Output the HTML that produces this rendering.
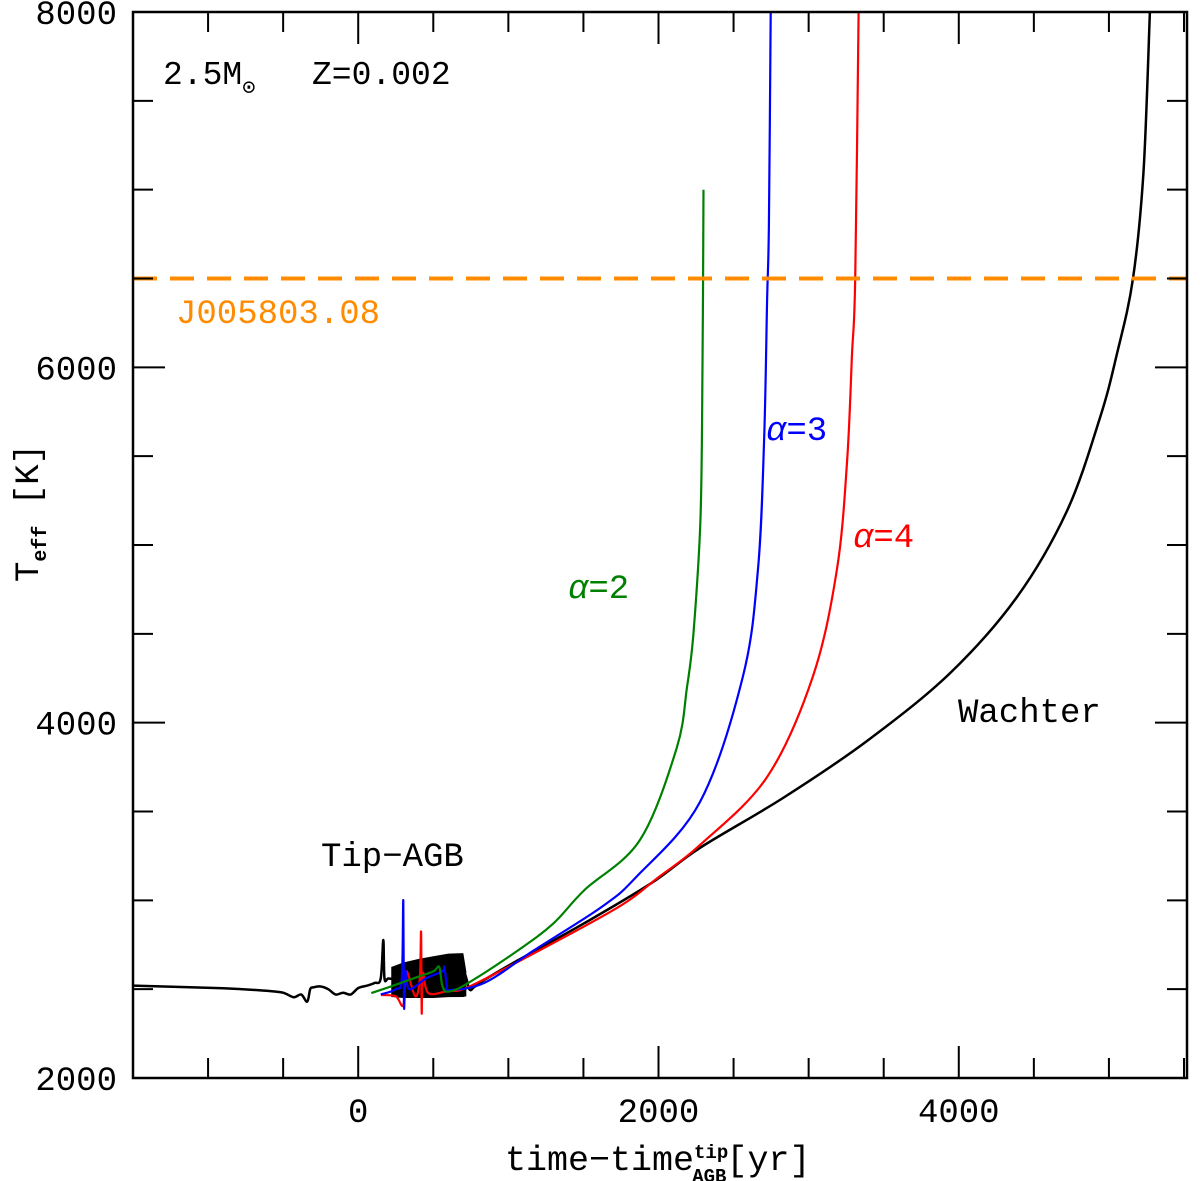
<!DOCTYPE html>
<html><head><meta charset="utf-8"><style>
html,body{margin:0;padding:0;background:#fff;}
svg{display:block;font-family:"Liberation Mono","DejaVu Sans Mono",monospace;}
</style></head><body>
<svg id="chart" width="1200" height="1181" viewBox="0 0 1200 1181">
<g id="marks"></g>
<g id="axes"></g>
<rect x="133" y="12" width="1054" height="1066" fill="none" stroke="#000" stroke-width="2.5"/>
<text x="163" y="84" font-size="33">2.5M<tspan font-size="22" dy="10">⊙</tspan></text>
<text x="312" y="84" font-size="33">Z=0.002</text>
<text x="176" y="323" font-size="34" fill="#ff8c00">J005803.08</text>
<text x="568" y="598" font-size="34" fill="green"><tspan font-style="italic">α</tspan>=2</text>
<text x="766" y="440" font-size="34" fill="blue"><tspan font-style="italic">α</tspan>=3</text>
<text x="853" y="547" font-size="34" fill="red"><tspan font-style="italic">α</tspan>=4</text>
<text x="958" y="722" font-size="34">Wachter</text>
<text x="321" y="866" font-size="34">Tip−AGB</text>
<text x="505" y="1170" font-size="35">time−time<tspan font-size="19" font-weight="bold" dy="-12">tip</tspan><tspan font-size="19" font-weight="bold" dx="-36" dy="24">AGB</tspan><tspan dy="-12">[yr]</tspan></text>
<text transform="translate(38,582) rotate(-90)" font-size="34">T<tspan font-size="20" font-weight="bold" dy="8">eff</tspan><tspan dy="-8"> [K]</tspan></text>
</svg>
<script>
const xDomain=[-1500,5520];
const yDomain=[2000,8000];
const xTicksMajor=[0,2000,4000];
const yTicksMajor=[2000,4000,6000,8000];
const xTickLabels=["0","2000","4000"];
const yTickLabels=["2000","4000","6000","8000"];
const targetTeff=6500;
const wachterT=[-1500,-900,-600,-500,-430,-380,-340,-320,-300,-250,-200,-150,-100,-50,0,60,110,150,167,175,200,250,400,600,700,740,773,840,1067,1507,1953,2276,2829,3389,3942,4387,4720,4940,5053,5160,5230,5273];
const wachterV=[2520,2505,2490,2480,2455,2470,2430,2500,2510,2515,2500,2470,2480,2470,2506,2520,2535,2560,2777,2560,2560,2560,2580,2600,2600,2500,2512,2552,2664,2872,3097,3295,3576,3897,4279,4707,5191,5715,6075,6497,7100,8000];
const bandT=[220,300,400,500,600,700,720];
const bandHi=[2625,2650,2670,2685,2700,2703,2600];
const bandLo=[2456,2450,2450,2450,2455,2456,2460];
const alpha2T=[87,200,300,400,500,540,560,600,733,1067,1300,1507,1877,2121,2190,2233,2280,2293,2300];
const alpha2V=[2478,2510,2540,2570,2600,2625,2520,2486,2535,2720,2870,3058,3340,3857,4200,4504,5152,6013,7000];
const alpha3T=[150,250,290,300,305,315,340,450,560,573,590,600,840,1173,1620,1850,2276,2563,2663,2703,2723,2735,2747];
const alpha3V=[2470,2500,2560,3000,2400,2600,2500,2560,2600,2625,2520,2495,2535,2720,2962,3130,3553,4262,4865,5574,6379,6800,8000];
const alpha4T=[153,250,300,320,380,410,419,423,430,467,600,733,1173,1733,2000,2276,2723,3029,3189,3256,3289,3310,3333];
const alpha4V=[2467,2460,2410,2600,2460,2560,2822,2366,2591,2478,2490,2512,2703,2962,3130,3311,3694,4262,4865,5473,6075,6497,8000];
const W=133,E=1187,T=12,B=1078;
const sx=v=>W+(v-xDomain[0])/(xDomain[1]-xDomain[0])*(E-W);
const sy=v=>B-(v-yDomain[0])/(yDomain[1]-yDomain[0])*(B-T);
const NS="http://www.w3.org/2000/svg";
const marks=document.getElementById('marks'),axes=document.getElementById('axes');
function mk(tag,attrs,parent){const e=document.createElementNS(NS,tag);for(const k in attrs)e.setAttribute(k,attrs[k]);parent.appendChild(e);return e;}
function smoothPath(ts,vs){
  const p=ts.map((t,i)=>[sx(t),sy(vs[i])]);
  let d='M'+p[0][0].toFixed(1)+','+p[0][1].toFixed(1);
  for(let i=0;i<p.length-1;i++){
    const p0=p[Math.max(i-1,0)],p1=p[i],p2=p[i+1],p3=p[Math.min(i+2,p.length-1)];
    const c1=[p1[0]+(p2[0]-p0[0])/6,p1[1]+(p2[1]-p0[1])/6];
    const c2=[p2[0]-(p3[0]-p1[0])/6,p2[1]-(p3[1]-p1[1])/6];
    d+='C'+c1[0].toFixed(1)+','+c1[1].toFixed(1)+' '+c2[0].toFixed(1)+','+c2[1].toFixed(1)+' '+p2[0].toFixed(1)+','+p2[1].toFixed(1);
  }
  return d;
}
function line(ts,vs,color,name,w){
  const p=mk('path',{d:smoothPath(ts,vs),fill:'none',stroke:color,'stroke-width':w,'stroke-linejoin':'round'},marks);
  
  
}
const bd=bandT.map((t,i)=>(i?'L':'M')+sx(t)+','+sy(bandHi[i])).join('')+bandT.slice().reverse().map((t,i)=>'L'+sx(t)+','+sy(bandLo[bandT.length-1-i])).join('')+'Z';
const band=mk('path',{d:bd,fill:'#000'},marks);


line(wachterT,wachterV,'#000','wachter-curve',2.5);
line(alpha4T,alpha4V,'red','alpha4-curve',2.2);
line(alpha3T,alpha3V,'blue','alpha3-curve',2.2);
line(alpha2T,alpha2V,'green','alpha2-curve',2.2);
const hl=mk('line',{x1:W,x2:E,y1:sy(targetTeff),y2:sy(targetTeff),stroke:'#ff8c00','stroke-width':4,'stroke-dasharray':'24,13'},marks);


for(let v=-1500;v<=5500;v+=500){
  const x=sx(v),L=(v%2000===0)?32:20;
  mk('line',{x1:x,x2:x,y1:B,y2:B-L,stroke:'#000','stroke-width':2},axes);
  mk('line',{x1:x,x2:x,y1:T,y2:T+L,stroke:'#000','stroke-width':2},axes);
}
for(let v=2000;v<=8000;v+=500){
  const y=sy(v),L=(v%2000===0)?32:20;
  mk('line',{x1:W,x2:W+L,y1:y,y2:y,stroke:'#000','stroke-width':2},axes);
  mk('line',{x1:E,x2:E-L,y1:y,y2:y,stroke:'#000','stroke-width':2},axes);
}
xTicksMajor.forEach((v,i)=>{
  const t=mk('text',{x:sx(v),y:1122,'font-size':34,'text-anchor':'middle'},axes);
  t.textContent=xTickLabels[i];
  
  
});
yTicksMajor.forEach((v,i)=>{
  const t=mk('text',{x:117,y:sy(v)+12,'font-size':34,'text-anchor':'end'},axes);
  t.textContent=yTickLabels[i];
  
  
});
</script>
</body></html>
